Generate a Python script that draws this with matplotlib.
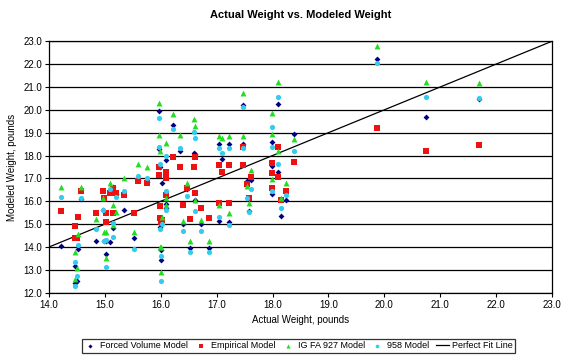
import matplotlib
matplotlib.use('Agg')
import matplotlib.pyplot as plt
import numpy as np

plt.rcParams['font.family'] = ['Liberation Sans', 'DejaVu Sans']

# actual weight of each sample (pounds) and the modeled weights
actual = [14.21, 14.47, 14.52, 14.50, 14.47, 14.58, 14.84, 14.97, 14.98, 15.03,
          15.03, 15.09, 15.14, 15.14, 15.20, 15.34, 15.52, 15.59, 15.75, 15.97,
          15.97, 15.98, 16.09, 16.02, 15.98, 16.00, 16.00, 16.09, 16.09, 16.22,
          16.34, 16.40, 16.47, 16.52, 16.59, 16.61, 16.61, 16.72, 16.86, 17.04,
          17.09, 17.04, 17.22, 17.22, 17.47, 17.47, 17.61, 17.54, 17.58, 17.99,
          17.99, 17.99, 18.10, 18.10, 18.24, 18.15, 18.38, 19.87, 20.74, 21.69]

forced_volume = [14.05, 13.17, 13.92, 12.52, 12.45, 16.10, 14.27, 15.60, 14.25, 13.70,
                 14.25, 14.23, 16.64, 14.82, 16.30, 15.62, 14.40, 16.95, 16.85, 19.95,
                 18.30, 17.50, 17.80, 16.82, 14.87, 13.87, 13.45, 15.70, 15.90, 19.33,
                 18.20, 15.00, 16.55, 13.95, 18.10, 18.05, 16.05, 15.00, 13.97, 18.50,
                 17.83, 15.14, 18.50, 15.10, 20.21, 18.50, 16.95, 16.89, 15.58, 18.60,
                 17.55, 16.30, 20.25, 17.30, 16.06, 15.37, 18.94, 22.20, 19.70, 20.48]

empirical = [15.59, 14.90, 15.33, 14.40, 14.40, 16.45, 15.51, 16.45, 16.13, 15.49,
             15.08, 16.36, 15.49, 16.58, 16.38, 16.28, 15.49, 16.90, 16.79, 17.50,
             17.15, 15.80, 17.27, 15.18, 15.25, 15.20, 15.10, 16.28, 17.00, 17.95,
             17.48, 15.84, 16.58, 15.23, 17.48, 17.92, 16.36, 15.71, 15.28, 17.58,
             17.28, 15.93, 17.58, 15.93, 18.36, 17.58, 17.05, 16.74, 16.14, 17.69,
             17.22, 16.58, 18.38, 17.05, 16.45, 16.06, 17.73, 19.21, 18.21, 18.46]

ig_fa_927 = [16.64, 13.80, 14.57, 13.09, 12.61, 16.64, 15.23, 16.14, 14.67, 13.52,
             14.67, 16.80, 15.84, 14.97, 15.53, 17.00, 14.67, 17.63, 17.51, 20.28,
             18.90, 18.20, 18.56, 15.33, 14.00, 14.00, 12.90, 16.13, 15.84, 19.81,
             18.90, 15.14, 16.80, 14.27, 19.62, 19.30, 16.06, 15.18, 14.27, 18.85,
             18.75, 15.84, 18.85, 15.49, 20.74, 18.85, 17.37, 16.67, 15.94, 19.87,
             18.94, 16.96, 21.21, 18.21, 16.82, 16.14, 18.72, 22.78, 21.21, 21.18]

model_958 = [16.17, 13.36, 14.09, 12.74, 12.28, 16.13, 14.79, 15.62, 14.28, 13.15,
             14.30, 16.55, 14.46, 15.04, 16.20, 16.46, 13.90, 17.12, 17.00, 19.65,
             18.36, 17.63, 17.98, 15.00, 14.80, 13.60, 12.53, 15.62, 16.45, 19.16,
             18.31, 14.70, 16.25, 13.79, 19.04, 18.75, 15.58, 14.72, 13.79, 18.31,
             18.12, 15.33, 18.31, 14.96, 20.14, 18.31, 16.54, 16.16, 15.52, 19.26,
             18.36, 16.46, 20.55, 17.63, 16.28, 15.70, 18.21, 22.05, 20.55, 20.50]

perfect_fit = [14.0, 23.0]

fig = plt.figure(figsize=(5.74, 3.58), dpi=100)
ax = fig.add_axes([0.085, 0.182, 0.877, 0.703])

for y in range(12, 24):
    ax.axhline(y, color='black', linewidth=0.9, zorder=1)

ax.scatter(actual, forced_volume, marker='D', s=9, color='#000080', linewidths=0,
           label='Forced Volume Model', zorder=3)
ax.scatter(actual, empirical, marker='s', s=16, color='#EE1111', linewidths=0,
           label='Empirical Model', zorder=3)
ax.scatter(actual, ig_fa_927, marker='^', s=18, color='#22DD22', linewidths=0,
           label='IG FA 927 Model', zorder=3)
ax.scatter(actual, model_958, marker='o', s=14, color='#33CCEE', linewidths=0,
           label='958 Model', zorder=3)
ax.plot(perfect_fit, perfect_fit, color='black', linewidth=0.9, label='Perfect Fit Line', zorder=2)

ax.set_xlim(14, 23)
ax.set_ylim(12, 23)
ax.set_xticks(np.arange(14, 23.5, 1))
ax.set_yticks(np.arange(12, 23.5, 1))
ax.set_xticklabels(['%.1f' % v for v in np.arange(14, 23.5, 1)])
ax.set_yticklabels(['%.1f' % v for v in np.arange(12, 23.5, 1)])
ax.tick_params(labelsize=7, length=3, width=0.8, direction='out', pad=2)
for side in ['left', 'bottom', 'right', 'top']:
    ax.spines[side].set_linewidth(0.9)
    ax.spines[side].set_color('black')

ax.set_title('Actual Weight vs. Modeled Weight', fontsize=8, fontweight='bold', pad=17)
ax.set_xlabel('Actual Weight, pounds', fontsize=7, labelpad=4)
ax.set_ylabel('Modeled Weight, pounds', fontsize=7, labelpad=4)

leg = fig.legend(loc='center', bbox_to_anchor=(0.52, 0.034), ncol=5, fontsize=6.5,
                 frameon=True, fancybox=False, edgecolor='black', handlelength=1.4,
                 handletextpad=0.4, columnspacing=0.7, borderpad=0.25,
                 markerscale=0.7, scatterpoints=1)
leg.get_frame().set_linewidth(0.9)

fig.savefig('out.png', dpi=100)
